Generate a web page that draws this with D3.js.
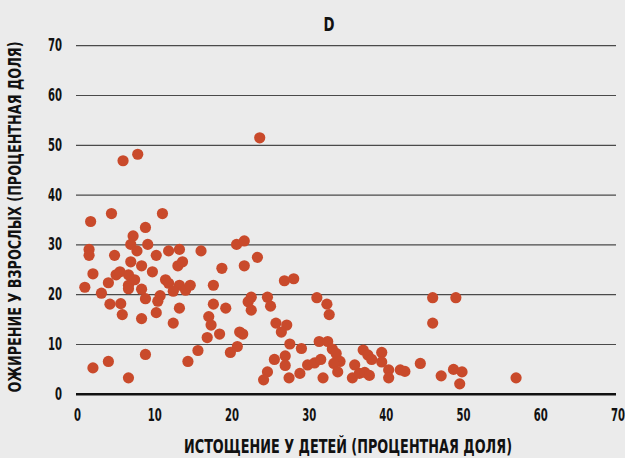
<!DOCTYPE html>
<html><head><meta charset="utf-8">
<script src="https://cdn.jsdelivr.net/npm/d3@7"></script>
<style>
html,body{margin:0;padding:0;background:#ebebeb;}
svg{display:block;}
text{font-family:"Liberation Sans Narrow","DejaVu Sans Condensed","Roboto","Noto Sans",sans-serif;font-weight:bold;fill:#111;}
</style></head>
<body>
<svg id="chart" width="625" height="458"></svg>
<script>
const title = "D";
const xTitle = "ИСТОЩЕНИЕ У ДЕТЕЙ (ПРОЦЕНТНАЯ ДОЛЯ)";
const yTitle = "ОЖИРЕНИЕ У ВЗРОСЛЫХ (ПРОЦЕНТНАЯ ДОЛЯ)";
const xTicks = [0,10,20,30,40,50,60,70];
const yTicks = [0,10,20,30,40,50,60,70];
const wasting = [23.6,5.9,7.8,1.7,4.4,11.0,8.8,7.2,6.9,7.7,9.1,1.5,1.5,4.8,10.2,11.8,13.2,16.0,20.6,21.6,23.3,21.6,18.7,6.9,8.3,9.7,2.0,4.0,5.0,5.5,6.6,7.4,6.6,6.6,8.3,8.8,13.0,13.6,11.4,11.8,13.2,12.4,14.0,14.6,10.7,10.4,0.95,3.1,4.2,5.6,5.8,8.3,10.2,13.2,12.4,17.6,17.6,19.2,17.0,17.3,16.8,18.4,15.6,14.3,19.8,20.7,21.0,21.4,22.5,22.1,22.5,24.6,25.0,25.7,25.5,24.6,24.1,2.0,4.0,6.6,8.8,26.8,28.0,31.0,32.3,32.6,46.0,49.0,46.0,27.1,26.4,27.5,29.0,26.9,26.9,27.4,28.8,29.8,30.7,31.5,31.3,32.4,33.0,33.5,34.0,33.2,33.7,31.8,35.6,35.9,36.5,37.0,37.6,38.1,37.2,37.8,39.4,39.4,40.3,40.3,41.8,42.4,44.4,47.1,48.7,49.8,49.5,56.8];
const obesity = [51.5,46.9,48.2,34.7,36.3,36.3,33.5,31.8,30.1,28.8,30.1,29.1,27.9,27.9,27.9,28.8,29.1,28.8,30.1,30.8,27.5,25.8,25.3,26.6,25.8,24.6,24.2,22.4,24.0,24.6,24.0,23.0,21.9,21.2,21.1,19.2,25.8,26.6,23.0,22.3,21.9,20.7,20.9,21.9,19.8,18.7,21.5,20.3,18.1,18.2,16.0,15.2,16.4,17.3,14.3,21.9,18.1,17.3,15.6,13.9,11.4,12.1,8.8,6.6,8.4,9.6,12.5,12.1,19.5,18.6,16.9,19.5,17.7,14.3,7.0,4.5,2.9,5.3,6.6,3.3,8.0,22.8,23.2,19.4,18.1,16.0,19.4,19.4,14.3,13.9,12.5,10.1,9.2,7.7,5.8,3.3,4.2,5.9,6.3,7.0,10.6,10.6,9.1,8.2,6.6,6.2,4.5,3.3,3.3,5.9,4.2,8.9,7.9,7.0,4.4,3.8,8.4,6.5,4.9,3.3,4.9,4.6,6.2,3.7,5.0,4.5,2.1,3.3];

const svg = d3.select("#chart");
const x = d3.scaleLinear().domain([0,70]).range([77.5,618]);
const y = d3.scaleLinear().domain([0,70]).range([394.3,45.7]);

// gridlines
svg.append("g").selectAll("line").data(yTicks).join("line")
  .attr("x1", x(0)-1.5).attr("x2", x(70)-2)
  .attr("y1", d=>y(d)).attr("y2", d=>y(d))
  .attr("stroke", d=> d===0 ? "#111" : "#4a4a4a")
  .attr("stroke-width", d=> d===0 ? 2.6 : 1.2);

// y tick labels
svg.append("g").selectAll("text").data(yTicks).join("text")
  .attr("x", 62).attr("y", d=>y(d)).attr("dy","0.3em")
  .attr("text-anchor","end").attr("font-size",18)
  .attr("textLength", d=>String(d).length*7).attr("lengthAdjust","spacingAndGlyphs")
  .text(d=>d);

// x tick labels
svg.append("g").selectAll("text").data(xTicks).join("text")
  .attr("x", d=>x(d)).attr("y", 421)
  .attr("text-anchor","middle").attr("font-size",18)
  .attr("textLength", d=>String(d).length*7).attr("lengthAdjust","spacingAndGlyphs")
  .text(d=>d);

// points
svg.append("g").selectAll("circle").data(wasting.map((w,i)=>[w,obesity[i]])).join("circle")
  .attr("cx", d=>x(d[0])).attr("cy", d=>y(d[1])).attr("r",5.6)
  .attr("fill","#c94a2b");

// titles
svg.append("text").attr("x",329).attr("y",31).attr("text-anchor","middle")
  .attr("font-size",19).attr("textLength",11).attr("lengthAdjust","spacingAndGlyphs").text(title);
svg.append("text").attr("x",348).attr("y",453).attr("text-anchor","middle")
  .attr("font-size",19).attr("textLength",328).attr("lengthAdjust","spacingAndGlyphs")
  .text(xTitle);
svg.append("text").attr("transform","translate(21,217) rotate(-90)")
  .attr("text-anchor","middle").attr("font-size",18)
  .attr("textLength",351).attr("lengthAdjust","spacingAndGlyphs")
  .text(yTitle);
</script>
</body></html>
